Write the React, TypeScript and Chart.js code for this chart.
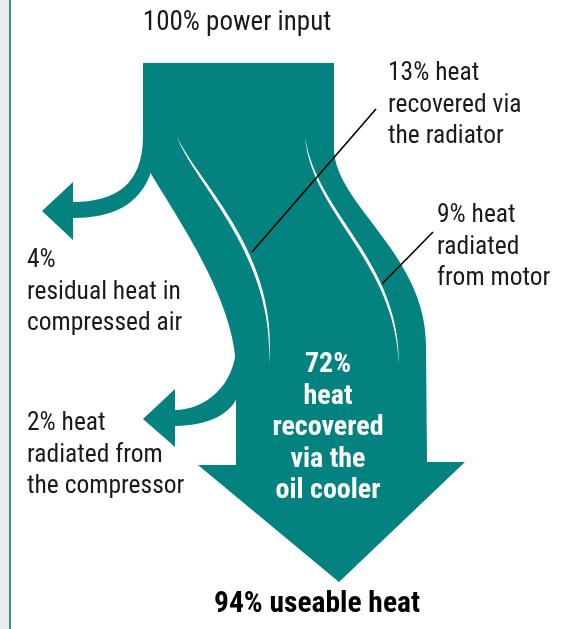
import React, { useEffect, useRef } from 'react';
import { Chart, registerables } from 'chart.js';

Chart.register(...registerables);

// ---------- data ----------
const flowNames = [
  'power input',
  'residual heat in compressed air',
  'heat radiated from the compressor',
  'heat recovered via the radiator',
  'heat radiated from motor',
  'heat recovered via the oil cooler',
  'useable heat',
];
const flowPercent = [100, 4, 2, 13, 9, 72, 94];
// label line templates, {v} is replaced with the percentage
const labelTemplates = [
  ['{v}% power input'],
  ['{v}%', 'residual heat in', 'compressed air'],
  ['{v}% heat', 'radiated from', 'the compressor'],
  ['{v}% heat', 'recovered via', 'the radiator'],
  ['{v}% heat', 'radiated', 'from motor'],
  ['{v}%', 'heat', 'recovered', 'via the', 'oil cooler'],
  ['{v}% useable heat'],
];

// ---------- layout (chart units of hidden x 0..570, y 0..629 scales) ----------
type Cmd = (string | number)[];
const SHAPES: Cmd[][] = [
  // main body with final arrow
  [
    ['M', 143, 63], ['L', 334, 63], ['L', 334, 150],
    ['C', 336, 205, 426, 255, 426, 345],
    ['L', 427, 462], ['L', 465, 462], ['L', 339, 582], ['L', 198, 465], ['L', 236, 465],
    ['L', 236, 370],
    ['C', 236, 300, 175, 215, 150, 172],
    ['L', 143, 140], ['Z'],
  ],
  // 4% branch arrow
  [
    ['M', 143, 136],
    ['C', 143, 185, 115, 202, 73, 202],
    ['L', 73, 182], ['L', 42, 211], ['L', 73, 240], ['L', 73, 218],
    ['C', 112, 218, 140, 205, 151, 172], ['Z'],
  ],
  // 2% branch arrow
  [
    ['M', 236, 345],
    ['C', 236, 385, 205, 410, 175, 410],
    ['L', 175, 389], ['L', 143, 419], ['L', 175, 447], ['L', 175, 426],
    ['C', 210, 426, 232, 412, 237, 397], ['Z'],
  ],
];
const SLIVERS = [
  { p0: [177, 137], c1: [195, 185], c2: [275, 255], p3: [269, 365] },
  { p0: [305, 137], c1: [312, 215], c2: [395, 260], p3: [399, 365] },
];
const POINTERS = [
  [376, 109, 252, 252],
  [433, 232, 382, 284],
];
const LABEL_POS = [
  { x: 237, y: 30, align: 'center', font: '27px', color: '#1a1a1a' },
  { x: 27, y: 267, align: 'left', font: '25.5px', color: '#1a1a1a' },
  { x: 27, y: 430, align: 'left', font: '25.5px', color: '#1a1a1a' },
  { x: 388, y: 80, align: 'left', font: '25.5px', color: '#1a1a1a' },
  { x: 437, y: 222, align: 'left', font: '25.5px', color: '#1a1a1a' },
  { x: 328, y: 372, align: 'center', font: 'bold 28px', color: '#ffffff' },
  { x: 317, y: 612, align: 'center', font: 'bold 29.5px', color: '#000000' },
];
const LINE_GAP = 31.5;
const TEAL = '#03827f';
const FONT = '"Liberation Sans Narrow", "Roboto Condensed", "DejaVu Sans Condensed", sans-serif';

const sankeyPlugin = {
  id: 'sankeyDraw',
  beforeDraw(chart: any) {
    const { ctx } = chart;
    const xs = chart.scales.x;
    const ys = chart.scales.y;
    const X = (v: number) => xs.getPixelForValue(v);
    const Y = (v: number) => ys.getPixelForValue(v);
    ctx.save();
    ctx.fillStyle = '#ffffff';
    ctx.fillRect(0, 0, chart.width, chart.height);
    // left frame strip
    ctx.fillStyle = '#ebebeb';
    ctx.fillRect(X(0), Y(0), X(9) - X(0), Y(629) - Y(0));
    ctx.fillStyle = '#2a9a98';
    ctx.fillRect(X(9), Y(0), X(11) - X(9), Y(629) - Y(0));

    // flow shapes
    ctx.fillStyle = TEAL;
    SHAPES.forEach((shape) => {
      ctx.beginPath();
      shape.forEach((c) => {
        const n = c as any[];
        if (n[0] === 'M') ctx.moveTo(X(n[1]), Y(n[2]));
        else if (n[0] === 'L') ctx.lineTo(X(n[1]), Y(n[2]));
        else if (n[0] === 'C') ctx.bezierCurveTo(X(n[1]), Y(n[2]), X(n[3]), Y(n[4]), X(n[5]), Y(n[6]));
        else ctx.closePath();
      });
      ctx.fill();
    });

    // white separators between flows
    ctx.fillStyle = '#ffffff';
    SLIVERS.forEach((s) => {
      const d = 5;
      ctx.beginPath();
      ctx.moveTo(X(s.p0[0]), Y(s.p0[1]));
      ctx.bezierCurveTo(X(s.c1[0]), Y(s.c1[1]), X(s.c2[0]), Y(s.c2[1]), X(s.p3[0]), Y(s.p3[1]));
      ctx.bezierCurveTo(X(s.c2[0] + d), Y(s.c2[1]), X(s.c1[0] + d), Y(s.c1[1]), X(s.p0[0]), Y(s.p0[1]));
      ctx.closePath();
      ctx.fill();
    });

    // pointer lines
    ctx.strokeStyle = '#000000';
    ctx.lineWidth = 1.6;
    POINTERS.forEach((p) => {
      ctx.beginPath();
      ctx.moveTo(X(p[0]), Y(p[1]));
      ctx.lineTo(X(p[2]), Y(p[3]));
      ctx.stroke();
    });

    // labels
    ctx.textBaseline = 'alphabetic';
    labelTemplates.forEach((lines, i) => {
      const pos = LABEL_POS[i];
      ctx.fillStyle = pos.color;
      ctx.textAlign = pos.align;
      ctx.font = `${pos.font} ${FONT}`;
      lines.forEach((t, j) => {
        const txt = t.replace('{v}', String(flowPercent[i]));
        ctx.fillText(txt, X(pos.x), Y(pos.y + j * LINE_GAP));
      });
    });
    ctx.restore();
  },
};

export default function App() {
  const ref = useRef<HTMLCanvasElement>(null);
  useEffect(() => {
    if (!ref.current) return;
    const chart = new Chart(ref.current, {
      type: 'scatter',
      data: {
        labels: flowNames,
        datasets: [
          {
            label: 'flow %',
            data: [],
            pointRadius: 0,
          },
        ],
      },
      options: {
        animation: false,
        responsive: false,
        devicePixelRatio: 1,
        layout: { padding: 0 },
        plugins: { legend: { display: false }, tooltip: { enabled: false } },
        scales: {
          x: { type: 'linear', min: 0, max: 570, display: false },
          y: { type: 'linear', min: 0, max: 629, reverse: true, display: false },
        },
      },
      plugins: [sankeyPlugin],
    });
    return () => chart.destroy();
  }, []);
  return (
    <div style={{ position: 'fixed', left: 0, top: 0, width: 570, height: 629, background: '#fff' }}>
      <canvas ref={ref} width={570} height={629} style={{ display: 'block', width: 570, height: 629 }} />
    </div>
  );
}
